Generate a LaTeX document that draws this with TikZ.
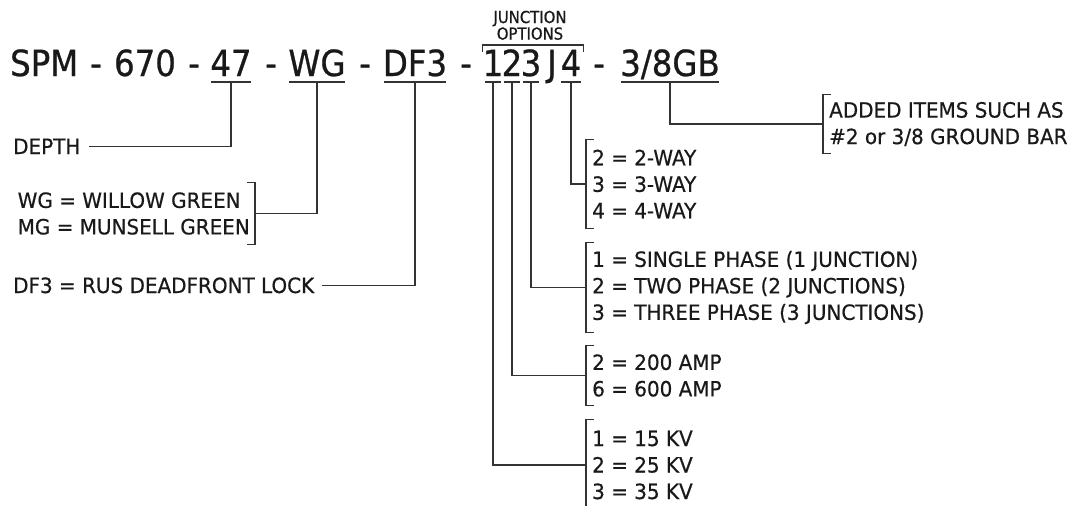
\documentclass[tikz,border=0pt]{standalone}
\usepackage{fontspec}
\setmainfont{DejaVu Sans}
\newfontfamily\ttlfont{DejaVu Sans}[FakeStretch=0.9,FakeBold=0.7]
\newfontfamily\txtfont{DejaVu Sans}[FakeStretch=0.95,FakeBold=0.5]
\usetikzlibrary{calc}
\tikzset{
  ln/.style={line width=1.3pt, black!80},
  ttl/.style={font=\ttlfont\fontsize{36}{40}\selectfont, inner sep=0pt, anchor=base, text=black!90},
  lbl/.style={font=\txtfont\fontsize{21}{26.5}\selectfont, inner sep=0pt, text=black!90},
  grp/.style={font=\txtfont\fontsize{21}{26.5}\selectfont, align=left, inner xsep=6pt, inner ysep=0pt, text=black!90},
}
\newcommand\mkLB[1]{\draw[ln] ([xshift=8pt]#1.north west) -| (#1.south west) -- ++(8,0);}
\newcommand\mkRB[1]{\draw[ln] ([xshift=-8pt]#1.north east) -| (#1.south east) -- ++(-8,0);}
\newcommand\mkUL[2]{\draw[ln] ($(#1.base west)+(#2,6)$) -- ($(#1.base east)+(-#2,6)$);}
\begin{document}
\begin{tikzpicture}[x=1pt,y=-1pt]
\useasboundingbox[fill=white] (0,0) rectangle (1077,506);
% title
\node[ttl, anchor=base west] (spm) at (10,76) {SPM};
\node[ttl] (d1) at (96,76) {-};
\node[ttl] (n670) at (145,76) {670};
\node[ttl] (d2) at (194,76) {-};
\node[ttl] (n47) at (231,76) {47};
\node[ttl] (d3) at (271,76) {-};
\node[ttl] (nWG) at (317,76) {WG};
\node[ttl] (d4) at (365,76) {-};
\node[ttl] (nDF) at (415,76) {DF3};
\node[ttl] (d5) at (466,76) {-};
\node[ttl] (c1) at (493,76) {1};
\node[ttl] (c2) at (512,76) {2};
\node[ttl] (c3) at (531,76) {3};
\node[ttl] (cJ) at (552,76) {J};
\node[ttl] (c4) at (571,76) {4};
\node[ttl] (d6) at (599,76) {-};
\node[ttl] (nGB) at (670,76) {3/8GB};
% underlines
\mkUL{n47}{1}
\mkUL{nWG}{1}
\mkUL{nDF}{1}
\mkUL{c1}{2.5}
\mkUL{c2}{2.5}
\mkUL{c3}{2.5}
\mkUL{c4}{1}
\mkUL{nGB}{1}
% junction options
\node[font=\ttlfont\fontsize{16.5}{14}\selectfont, align=center, inner sep=0pt, anchor=south, text=black!90] (jo) at (530,40) {JUNCTION\\OPTIONS};
\draw[ln] ($(c1.base west)+(0,-24)$) |- ($(c4.base east)+(2,-31)$) -- ++(0,7);
% left labels
\node[lbl, anchor=base west] (depth) at (13,154) {DEPTH};
\node[grp, anchor=east, inner xsep=5pt, minimum height=61pt] (wg) at (255,213.5) {WG = WILLOW GREEN\\MG = MUNSELL GREEN};
\mkRB{wg}
\node[lbl, anchor=base west] (df) at (13,293) {DF3 = RUS DEADFRONT LOCK};
% right groups
\node[grp, anchor=west, minimum height=58pt] (added) at (823,124) {ADDED ITEMS SUCH AS\\\#2 or 3/8 GROUND BAR};
\mkLB{added}
\node[grp, anchor=west, minimum height=88pt] (way) at (586,184) {2 = 2-WAY\\3 = 3-WAY\\4 = 4-WAY};
\mkLB{way}
\node[grp, anchor=west, minimum height=89pt] (phase) at (586,287.5) {1 = SINGLE PHASE (1 JUNCTION)\\2 = TWO PHASE (2 JUNCTIONS)\\3 = THREE PHASE (3 JUNCTIONS)};
\mkLB{phase}
\node[grp, anchor=west, minimum height=59pt] (amp) at (586,375.5) {2 = 200 AMP\\6 = 600 AMP};
\mkLB{amp}
\node[grp, anchor=west, minimum height=90pt] (kv) at (586,465) {1 = 15 KV\\2 = 25 KV\\3 = 35 KV};
\mkLB{kv}
% connectors
\draw[ln] (n47.base) ++(0,6) |- ([xshift=8pt]depth.east);
\draw[ln] (nWG.base) ++(0,6) |- (wg.east);
\draw[ln] (nDF.base) ++(0,6) |- ([xshift=8pt]df.east);
\draw[ln] (c1.base) ++(0,6) |- (kv.west);
\draw[ln] (c2.base) ++(0,6) |- (amp.west);
\draw[ln] (c3.base) ++(0,6) |- (phase.west);
\draw[ln] (c4.base) ++(0,6) |- (way.west);
\draw[ln] (nGB.base) ++(0,6) |- (added.west);
\end{tikzpicture}
\end{document}
